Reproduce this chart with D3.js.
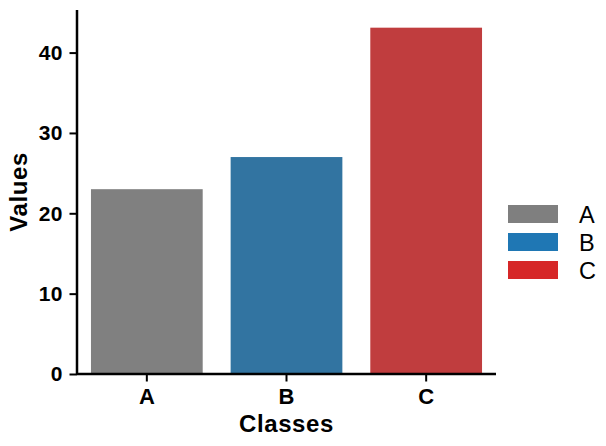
<!DOCTYPE html>
<html><head><meta charset="utf-8">
<script src="https://cdn.jsdelivr.net/npm/d3@7"></script>
<style>body{margin:0;background:#fff}svg{display:block;font-family:"Liberation Sans",Arial,sans-serif}</style>
</head><body><svg id="c" width="606" height="446"></svg>
<script>
const categories = ["A", "B", "C"];
const values = [23, 27, 43.1];
const barColors = ["#808080", "#3274a1", "#c03d3e"];
const legendColors = ["#7f7f7f", "#1f77b4", "#d62728"];
const yTicks = [0, 10, 20, 30, 40];

const svg = d3.select("#c");
const L = 77, R = 496, T = 10, B = 374;
const x = d3.scaleBand().domain(categories).range([L, R]).paddingInner(0.2).paddingOuter(0.1);
const y = d3.scaleLinear().domain([0, 45.3]).range([B, T]);

svg.selectAll("rect.bar").data(categories).enter().append("rect")
  .attr("x", d => x(d)).attr("width", x.bandwidth())
  .attr("y", (d, i) => y(values[i])).attr("height", (d, i) => B - y(values[i]))
  .attr("fill", (d, i) => barColors[i]);

const yAxis = svg.append("g").attr("transform", `translate(${L},0)`)
  .call(d3.axisLeft(y).tickValues(yTicks).tickSize(7.5).tickPadding(6.5));
const xAxis = svg.append("g").attr("transform", `translate(0,${B})`)
  .call(d3.axisBottom(x).tickSize(7.5).tickPadding(7));
[yAxis, xAxis].forEach(g => {
  g.attr("font-size", null).attr("font-family", null);
  g.select(".domain").attr("stroke", "#000").attr("stroke-width", 2.5);
  g.selectAll(".tick line").attr("stroke", "#000").attr("stroke-width", 2);
  g.selectAll(".tick text").style("font-size", "21px").style("font-weight", "bold").attr("fill", "#000");
});
yAxis.selectAll(".tick text").style("letter-spacing", "0.5px");
xAxis.selectAll(".tick text").style("font-size", "22px");
xAxis.select(".domain").attr("d", `M${L},0H${R}`);
yAxis.select(".domain").attr("d", `M0,${B}V${T}`);

svg.append("text").attr("x", (L + R) / 2).attr("y", 431.5).attr("text-anchor", "middle")
  .style("font-size", "24px").style("font-weight", "bold").style("letter-spacing", "0.6px").text("Classes");
svg.append("text").attr("transform", `translate(26.5,${(T + B) / 2}) rotate(-90)`).attr("text-anchor", "middle")
  .style("font-size", "24px").style("font-weight", "bold").style("letter-spacing", "0.6px").text("Values");

const lg = svg.append("g");
categories.forEach((c, i) => {
  const cy = 214 + i * 28;
  lg.append("rect").attr("x", 508).attr("y", cy - 9).attr("width", 50).attr("height", 18).attr("fill", legendColors[i]);
  lg.append("text").attr("x", 579).attr("y", cy + 8.8).style("font-size", "23.5px").text(c);
});
</script></body></html>
